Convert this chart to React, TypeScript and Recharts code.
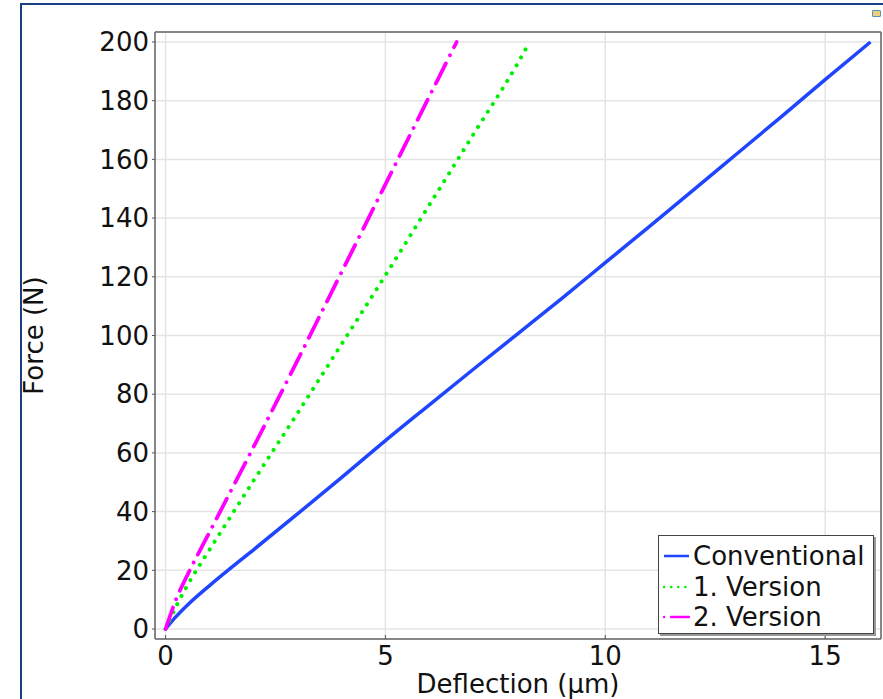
import React from "react";
import { LineChart, Line, XAxis, YAxis, CartesianGrid, Legend } from "recharts";

const FONT = '"DejaVu Sans", "Liberation Sans", sans-serif';

// Deflection (µm) / Force (N)
const convX = [0, 0.2, 0.5, 1, 1.5, 2, 3, 4, 5, 6, 7, 8, 9, 10, 11, 12, 13, 14, 15, 16.03];
const convF = [0, 3.6, 8.2, 14.8, 21, 27, 39.2, 51.6, 64.2, 76.4, 88.5, 100.5, 112.5, 124.8, 137.1, 149.5, 162, 174.5, 187.2, 200];

const v1X = [0, 0.25, 0.5, 1, 2, 3, 4, 5, 6, 7, 8, 8.28];
const v1F = [0, 8, 15, 27, 50.5, 73.5, 97, 120.5, 144.5, 168.5, 192.5, 200];

const v2X = [0, 0.25, 0.5, 1, 2, 3, 4, 5, 6, 6.62];
const v2F = [0, 10.5, 18.5, 33, 62, 91.5, 121.5, 151.5, 181.5, 200];

const xTicks = [0, 5, 10, 15];
const yTicks = [0, 20, 40, 60, 80, 100, 120, 140, 160, 180, 200];

const toPoints = (xs: number[], ys: number[]) => xs.map((x, i) => ({ x, y: ys[i] }));

const SERIES = [
  { name: "Conventional", data: toPoints(convX, convF), color: "#1f45ff", width: 3.5, dash: undefined, sample: undefined },
  { name: "1. Version", data: toPoints(v1X, v1F), color: "#00f000", width: 4, dash: "0.1 9", sample: "0.1 7" },
  { name: "2. Version", data: toPoints(v2X, v2F), color: "#ff00ff", width: 3.8, dash: "22.5 9 0.1 9", sample: "0.1 7 20 100" },
];

const X_DOMAIN = [-0.24, 16.27];
const Y_DOMAIN = [-3.4, 203.4];
const BORDER = { stroke: "#666", strokeWidth: 1.5 };
const TICK = { fill: "#111", fontSize: 26, fontFamily: FONT };

function renderLegend() {
  return (
    <div
      style={{
        boxSizing: "border-box",
        width: 216,
        border: "1px solid #444",
        boxShadow: "2px 2px 0 #999",
        background: "#fff",
        padding: "5px 4px 0 4px",
        fontFamily: FONT,
        fontSize: 26,
        lineHeight: "30.5px",
        color: "#111",
      }}
    >
      {SERIES.map((s) => (
        <div key={s.name} style={{ display: "flex", alignItems: "center", height: 30.5 }}>
          <svg width={27} height={10} style={{ flex: "none" }}>
            <line
              x1={1}
              x2={26}
              y1={5}
              y2={5}
              stroke={s.color}
              strokeWidth={2.5}
              strokeDasharray={s.sample}
              strokeLinecap={s.sample ? "round" : "butt"}
            />
          </svg>
          <span style={{ marginLeft: 3, whiteSpace: "nowrap" }}>{s.name}</span>
        </div>
      ))}
    </div>
  );
}

function ForceLabel(props: any) {
  const vb = props.viewBox;
  const cx = vb.x + 34;
  const cy = vb.y + vb.height / 2;
  return (
    <text
      x={cx}
      y={cy}
      transform={`rotate(-90, ${cx}, ${cy})`}
      textAnchor="middle"
      dominantBaseline="central"
      fill="#111"
      fontSize={26}
      fontFamily={FONT}
    >
      Force (N)
    </text>
  );
}

export default function App() {
  return (
    <div style={{ position: "absolute", left: 0, top: 0, width: 883, height: 699, background: "#fff" }}>
      <LineChart width={883} height={699} margin={{ top: 31, right: 1, left: 0, bottom: 0 }}>
        <CartesianGrid xAxisId="b" yAxisId="l" stroke="#e4e4e4" strokeWidth={1.5} />
        <XAxis
          xAxisId="b"
          type="number"
          dataKey="x"
          domain={X_DOMAIN}
          ticks={xTicks}
          interval={0}
          allowDataOverflow
          height={60}
          axisLine={BORDER}
          tickLine={{ stroke: "#555" }}
          tickSize={-4}
          tickMargin={12}
          tick={TICK}
          label={{ value: "Deflection (µm)", position: "insideBottom", offset: 6, fill: "#111", fontSize: 26, fontFamily: FONT }}
        />
        <XAxis
          xAxisId="t"
          type="number"
          dataKey="x"
          orientation="top"
          domain={X_DOMAIN}
          ticks={xTicks}
          interval={0}
          allowDataOverflow
          height={1}
          axisLine={BORDER}
          tickLine={{ stroke: "#555" }}
          tickSize={-4}
          tick={false}
        />
        <YAxis
          yAxisId="l"
          type="number"
          domain={Y_DOMAIN}
          ticks={yTicks}
          interval={0}
          allowDataOverflow
          width={155}
          axisLine={BORDER}
          tickLine={{ stroke: "#555" }}
          tickSize={3}
          tickMargin={3}
          tick={TICK}
          label={<ForceLabel />}
        />
        <YAxis
          yAxisId="r"
          type="number"
          orientation="right"
          domain={Y_DOMAIN}
          ticks={yTicks}
          interval={0}
          allowDataOverflow
          width={1}
          axisLine={BORDER}
          tickLine={{ stroke: "#555" }}
          tickSize={-4}
          tick={false}
        />
        {SERIES.map((s) => (
          <Line
            key={s.name}
            xAxisId="b"
            yAxisId="l"
            data={s.data}
            dataKey="y"
            name={s.name}
            type="monotone"
            stroke={s.color}
            strokeWidth={s.width}
            strokeDasharray={s.dash}
            strokeLinecap={s.dash ? "round" : "butt"}
            dot={false}
            activeDot={false}
            isAnimationActive={false}
          />
        ))}
        <Legend
          content={renderLegend}
          layout="vertical"
          align="center"
          verticalAlign="middle"
          wrapperStyle={{ left: 658, top: 535, width: 216 }}
        />
      </LineChart>
      {/* outer frame of the screenshot */}
      <div
        style={{
          position: "absolute",
          left: 20,
          top: 3,
          right: 0,
          bottom: 0,
          borderTop: "2px solid #1b3d82",
          borderLeft: "2px solid #1b3d82",
          pointerEvents: "none",
        }}
      />
      <div
        style={{
          position: "absolute",
          left: 872,
          top: 10,
          width: 7,
          height: 5,
          background: "#e8d27a",
          border: "1px solid #5b8fc7",
          borderRadius: 1,
        }}
      />
    </div>
  );
}
